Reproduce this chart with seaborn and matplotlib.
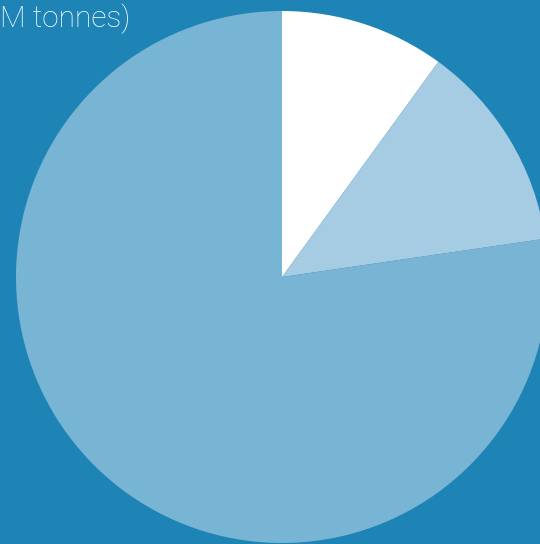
import matplotlib
matplotlib.use("Agg")
import matplotlib.pyplot as plt
import seaborn as sns

categories = ["A", "B", "C"]
values = [10.0, 12.7, 77.3]
colors = ["#ffffff", "#a6cce3", "#78b4d4"]
bg = "#1e84b5"

sns.set_theme(style="white")
plt.rcParams["font.family"] = ["Roboto", "DejaVu Sans"]

fig = plt.figure(figsize=(5.4, 5.44), dpi=100, facecolor=bg)
W, H = 540, 544
cx, cy, r = 282, 277, 266
ax = fig.add_axes([(cx - r) / W, (H - cy - r) / H, 2 * r / W, 2 * r / H])
ax.set_facecolor(bg)
ax.pie(values, colors=colors, startangle=90, counterclock=False, radius=1,
       wedgeprops=dict(linewidth=0))
ax.set_xlim(-1, 1)
ax.set_ylim(-1, 1)
ax.set_aspect("equal")
ax.axis("off")

fig.text(0 / W, 1 - 27.5 / H, "M tonnes)", color="white", fontsize=21.5,
         fontweight="light", ha="left", va="baseline")

fig.savefig("out.png", dpi=100, facecolor=bg)
